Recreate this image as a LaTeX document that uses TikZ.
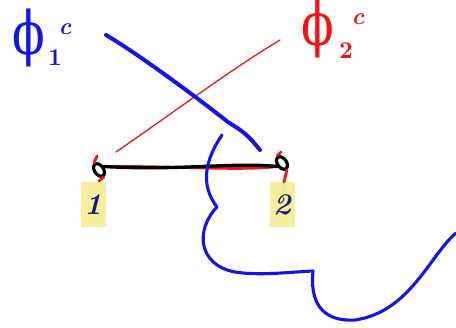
\documentclass[tikz,border=0pt]{standalone}
\usepackage{fontspec}
\newfontfamily\phifont{DejaVu Serif}
\usetikzlibrary{shapes.geometric}
\definecolor{pblue}{RGB}{20,20,230}
\definecolor{pred}{RGB}{240,20,20}
\definecolor{hl}{RGB}{246,238,155}
\definecolor{ink}{RGB}{25,25,130}
\tikzset{
  vert/.style={draw=black,line width=3.2pt,ellipse,minimum width=9pt,minimum height=14pt,inner sep=0pt,rotate=35},
  lbl/.style={fill=hl,text=ink,minimum width=25pt,minimum height=45pt,inner sep=0pt},
  bluepen/.style={draw=pblue,line width=3.1pt,line cap=round,line join=round},
  bluethick/.style={draw=pblue,line width=4pt,line cap=round,line join=round},
  redthin/.style={draw=pred,line width=1.3pt,line cap=round},
  redpen/.style={draw=pred,line width=2.8pt,line cap=round},
  blackpen/.style={draw=black,line width=3.3pt,line cap=round},
  script/.style={inner sep=0pt},
  phisym/.style={inner sep=0pt,font=\phifont\fontsize{60}{60}\selectfont}
}
\newcommand{\midsym}[1]{\scalebox{2.4}{#1}}
\newcommand{\narrow}[1]{\scalebox{0.8}[1]{#1}}
\begin{document}
\begin{tikzpicture}[x=1pt,y=-1pt]
\useasboundingbox (0,0) rectangle (456,328);
% labels phi 1
\node[phisym,text=pblue] (phi1) at (29,38) {\narrow{ϕ}};
\node[script,text=pblue] (sub1) at (55,58) {\midsym{\bfseries 1}};
\node[script,text=pblue] (sup1) at (65,29) {\midsym{\bfseries\itshape c}};
% labels phi 2
\node[phisym,text=pred] (phi2) at (318,29) {\narrow{ϕ}};
\node[script,text=pred] (sub2) at (346,51) {\midsym{\bfseries 2}};
\node[script,text=pred] (sup2) at (358,19) {\midsym{\bfseries\itshape c}};
% highlights with numbers
\node[lbl] (l1) at (93,205) {\scalebox{3}{\bfseries\itshape 1}};
\node[lbl] (l2) at (282,205) {\scalebox{3}{\bfseries\itshape 2}};
% vertices
\node[vert] (v1) at (99,170) {};
\node[vert] (v2) at (282,163) {};
% red ticks
\draw[redpen] (97,156) -- (v1.north);
\draw[redpen] (v1.south) -- (99,181);
\draw[redpen] (281,152) -- (v2.north);
\draw[redpen] (v2.south) -- (284,182);
% red thin diagonal
\coordinate (r1) at (116,152);
\coordinate (r2) at (280,40);
\draw[redthin] (r1) .. controls (170,115) and (230,70) .. (r2);
% red horizontal
\draw[redpen] (v1.east) .. controls (180,166) and (240,171) .. (v2.west);
% black edge
\draw[blackpen] (v1.east) .. controls (180,171) and (230,162) .. (v2.west);
% blue diagonal
\coordinate (b1) at (106,35);
\coordinate (b2) at (260,150);
\draw[bluethick] (b1) .. controls (140,55) and (200,100) .. (228,122) .. controls (238,129) and (244,130) .. (b2);
% blue wavy curve
\coordinate (w0) at (222,135);
\coordinate (w5) at (456,233);
\draw[bluepen] (w0) .. controls (205,160) and (200,185) .. (217,207)
  .. controls (195,230) and (198,265) .. (235,272)
  .. controls (260,276) and (290,272) .. (313,271)
  .. controls (310,300) and (320,322) .. (355,320)
  .. controls (410,312) and (430,255) .. (w5);
\end{tikzpicture}
\end{document}
